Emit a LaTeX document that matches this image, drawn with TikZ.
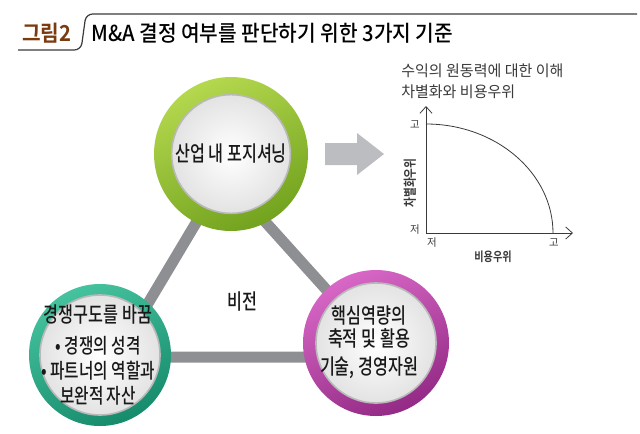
\documentclass[tikz,border=0pt]{standalone}
\usepackage{fontspec}
\setmainfont{Noto Sans CJK KR}[FakeStretch=0.8,BoldFont={Noto Sans CJK KR Bold}]
\newfontfamily\headfont{Noto Sans CJK KR Medium}[FakeStretch=0.92,BoldFont={Noto Sans CJK KR Bold}]
\newfontfamily\circfont{Noto Sans CJK KR Medium}[FakeStretch=0.76]
\newfontfamily\chartfont{Noto Sans CJK KR}[FakeStretch=0.98]
\usepackage{tikz}
\usetikzlibrary{positioning,arrows.meta}

\definecolor{bargray}{HTML}{8E8F93}
\definecolor{arrowgray}{HTML}{BCBDC0}
\definecolor{figbrown}{HTML}{7A3B10}
\definecolor{inkgray}{HTML}{3A3A3A}
\definecolor{greenlt}{HTML}{B4D84E}
\definecolor{greendk}{HTML}{72A21E}
\definecolor{teallt}{HTML}{45C29E}
\definecolor{tealdk}{HTML}{168B6C}
\definecolor{purplt}{HTML}{D867C6}
\definecolor{purpdk}{HTML}{932A85}

\begin{document}
\begin{tikzpicture}[x=0.75pt, y=-0.75pt,
  ringbox/.style={circle, inner sep=0pt},
  disc/.style={circle, inner sep=0pt, minimum size=89pt, draw=gray!55, line width=1.2pt, inner color=white, outer color=gray!22},
  circtext/.style={font=\circfont\fontsize{16}{17}\selectfont, text=black!90, align=center, inner sep=0pt},
  tick/.style={font=\chartfont\fontsize{8}{9}\selectfont, text=inkgray, inner sep=0pt},
  axislabel/.style={font=\bfseries\fontsize{10}{11}\selectfont, text=inkgray, inner sep=0pt},
  axisline/.style={draw=inkgray, line width=0.6pt}]

\useasboundingbox (0,0) rectangle (640,433);

% header
\draw[inkgray, line width=0.9pt, rounded corners=5pt] (637,14) -- (86,14) -- (81,50) -- (18,50);
\node[font=\headfont\bfseries\fontsize{16.5}{18}\selectfont, text=figbrown, anchor=west, inner sep=0pt] (fignum) at (22,33) {그림2};
\node[font=\headfont\fontsize{16.5}{18}\selectfont, anchor=west, inner sep=0pt] (figtitle) at (91,33) {M\&A 결정 여부를 판단하기 위한 3가지 기준};

% triangle of bars
\coordinate (vtop) at (224,176);
\coordinate (vleft) at (116,357);
\coordinate (vright) at (387,357);
\draw[bargray, line width=8.25pt, line join=round] (vtop) -- (vleft) -- (vright) -- cycle;

\node[circtext] (vision) at (242,302) {비전};

% three circles
\node[ringbox, minimum size=115.5pt, top color=greenlt, bottom color=greendk, shading angle=25] (posring) at (231,154) {};
\node[disc] (posdisc) at (posring) {};
\node[circtext] (postext) at (231,154) {산업 내 포지셔닝};

\node[ringbox, minimum size=106.5pt, top color=teallt, bottom color=tealdk, shading angle=25] (compring) at (100,355) {};
\node[disc, minimum size=90pt] (compdisc) at (compring) {};
\node[circtext, font=\circfont\fontsize{15.5}{18.75}\selectfont] (comptext) at (98,355)
  {{\fontsize{16}{18.75}\selectfont 경쟁구도를 바꿈}\\[4pt] • 경쟁의 성격\\ • 파트너의 역할과\\ 보완적 자산};

\node[ringbox, minimum size=109.5pt, top color=purplt, bottom color=purpdk, shading angle=25] (corering) at (376,343) {};
\node[disc, minimum size=90pt] (coredisc) at (corering) {};
\node[circtext] (coretext) at (369,342) {핵심역량의\\ 축적 및 활용\\[4pt] 기술, 경영자원};

% gray arrow
\fill[arrowgray] (325,143) -- (357,143) -- (357,133) -- (384,154) -- (357,175) -- (357,165) -- (325,165) -- cycle;

% chart
\node[font=\chartfont\fontsize{11.5}{13}\selectfont, text=inkgray, anchor=west, inner sep=0pt] (ctitle1) at (401,71) {수익의 원동력에 대한 이해};
\node[font=\chartfont\fontsize{11.5}{13}\selectfont, text=inkgray, anchor=west, inner sep=0pt] (ctitle2) at (401,92) {차별화와 비용우위};

\coordinate (origin) at (426,233);
\coordinate (ytop) at (426,106);
\coordinate (xend) at (573,233);
\draw[axisline, -{Straight Barb[length=5pt,width=9pt]}] (origin) -- (ytop);
\draw[axisline, -{Straight Barb[length=5pt,width=9pt]}] (origin) -- (xend);
\draw[axisline] (426,124) .. controls (496,124) and (553,173) .. (553,233);

\node[tick] (yhigh) at (415,125) {고};
\node[tick] (ylow) at (415,230) {저};
\node[tick] (xlow) at (432,243) {저};
\node[tick] (xhigh) at (554,243) {고};

\node[axislabel, rotate=90] (ylab) at (410,183) {차별화우위};
\node[axislabel, font=\bfseries\fontsize{9.5}{11}\selectfont] (xlab) at (493,257) {비용우위};
\end{tikzpicture}
\end{document}
